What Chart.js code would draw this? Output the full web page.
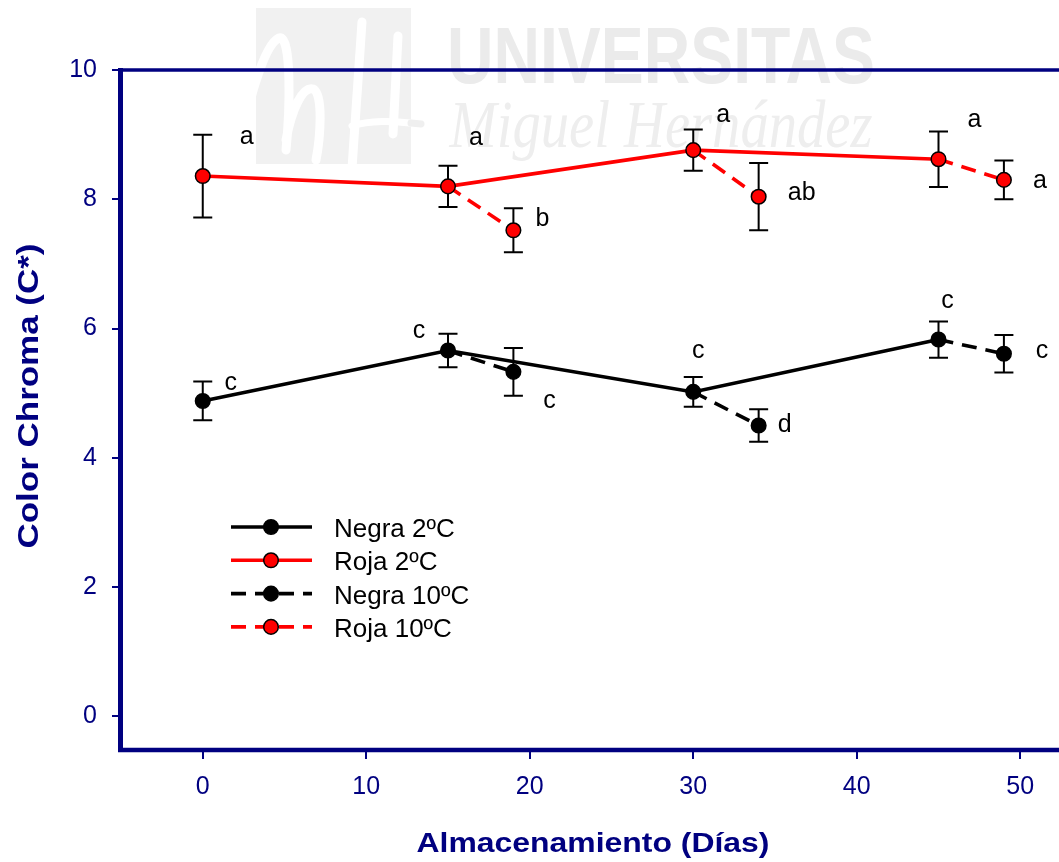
<!DOCTYPE html>
<html>
<head>
<meta charset="utf-8">
<script src="https://cdn.jsdelivr.net/npm/chart.js@4.4.1/dist/chart.umd.min.js"></script>
<style>
  html, body { margin: 0; padding: 0; background: #ffffff; overflow: hidden; }
  #wrap { width: 1059px; height: 862px; position: relative; }
</style>
</head>
<body>
<div id="wrap"><canvas id="chart"></canvas></div>
<script>
// ---- data: storage days and chroma means ± error ----
const storageDays = [0, 15, 30, 45];
const warmDays = [19, 34, 49];

const negra2 = [4.88, 5.66, 5.02, 5.83];
const negra2Err = [0.30, 0.26, 0.23, 0.28];
const roja2 = [8.36, 8.20, 8.76, 8.62];
const roja2Err = [0.64, 0.32, 0.32, 0.43];

const negra10 = [5.33, 4.50, 5.61];
const negra10Err = [0.37, 0.25, 0.29];
const roja10 = [7.52, 8.04, 8.30];
const roja10Err = [0.34, 0.52, 0.30];

// significance letters
const negra2Letters = ['c', 'c', 'c', 'c'];
const roja2Letters = ['a', 'a', 'a', 'a'];
const negra10Letters = ['c', 'd', 'c'];
const roja10Letters = ['b', 'ab', 'a'];

const seriesNames = ['Negra 2ºC', 'Roja 2ºC', 'Negra 10ºC', 'Roja 10ºC'];
const xTicks = [0, 10, 20, 30, 40, 50];
const yTicks = [0, 2, 4, 6, 8, 10];
const xTitle = 'Almacenamiento (Días)';
const yTitle = 'Color Chroma (C*)';

// ---- styling ----
const NAVY = '#000080';
const RED = '#ff0000';
const FONT = '"Liberation Sans", Arial, Helvetica, sans-serif';

// letter placement relative to each marker: [dx, baseline dy] in px
const negra2LetterPos = [[28, -11], [-29, -13], [5, -34], [9, -32]];
const roja2LetterPos = [[44, -32], [28, -41], [30, -28], [36, -32]];
const negra10LetterPos = [[36, 36], [26, 6], [38, 4]];
const roja10LetterPos = [[29, -4], [43, 3], [36, 8]];

function solidPoints(days, vals, errs, letters, pos) {
  return days.map((d, i) => ({ x: d, y: vals[i], err: errs[i], letter: letters[i], pos: pos[i] }));
}
// each 10ºC segment starts from the matching 2ºC point and ends at the warm-storage day
function warmPoints(startDays, startVals, days, vals, errs, letters, pos) {
  const pts = [];
  days.forEach((d, i) => {
    pts.push({ x: startDays[i + 1], y: startVals[i + 1], start: true });
    pts.push({ x: d, y: vals[i], err: errs[i], letter: letters[i], pos: pos[i] });
    pts.push({ x: d, y: null });
  });
  return pts;
}

const markerRadius = ctx => (ctx.raw && ctx.raw.start) ? 0 : 7.3;

const datasets = [
  {
    label: seriesNames[0],
    data: solidPoints(storageDays, negra2, negra2Err, negra2Letters, negra2LetterPos),
    borderColor: '#000000', backgroundColor: '#000000',
    borderWidth: 3.6, borderDash: [],
    pointBackgroundColor: '#000000', pointBorderColor: '#000000',
    pointRadius: markerRadius, pointBorderWidth: 1.5
  },
  {
    label: seriesNames[1],
    data: solidPoints(storageDays, roja2, roja2Err, roja2Letters, roja2LetterPos),
    borderColor: RED, backgroundColor: RED,
    borderWidth: 3.6, borderDash: [],
    pointBackgroundColor: RED, pointBorderColor: '#000000',
    pointRadius: markerRadius, pointBorderWidth: 1.5
  },
  {
    label: seriesNames[2],
    data: warmPoints(storageDays, negra2, warmDays, negra10, negra10Err, negra10Letters, negra10LetterPos),
    borderColor: '#000000', backgroundColor: '#000000',
    borderWidth: 3.6, borderDash: [15, 9],
    pointBackgroundColor: '#000000', pointBorderColor: '#000000',
    pointRadius: markerRadius, pointBorderWidth: 1.5
  },
  {
    label: seriesNames[3],
    data: warmPoints(storageDays, roja2, warmDays, roja10, roja10Err, roja10Letters, roja10LetterPos),
    borderColor: RED, backgroundColor: RED,
    borderWidth: 3.6, borderDash: [15, 9],
    pointBackgroundColor: RED, pointBorderColor: '#000000',
    pointRadius: markerRadius, pointBorderWidth: 1.5
  }
];

function drawScaledText(ctx, text, x, y, width) {
  const w = ctx.measureText(text).width;
  ctx.save();
  ctx.translate(x, y);
  ctx.scale(width / w, 1);
  ctx.fillText(text, -w / 2, 0);
  ctx.restore();
}

const decor = {
  id: 'decor',
  beforeDraw(chart) {
    const ctx = chart.ctx;
    ctx.save();
    // university watermark
    ctx.fillStyle = '#f1f1f1';
    ctx.fillRect(256, 8, 155, 156);
    ctx.strokeStyle = '#ffffff';
    ctx.lineWidth = 9;
    ctx.lineCap = 'round';
    ctx.lineJoin = 'round';
    ctx.beginPath();
    ctx.moveTo(236, 158);
    ctx.bezierCurveTo(246, 115, 262, 45, 279, 38);
    ctx.bezierCurveTo(292, 34, 290, 110, 286, 150);
    ctx.moveTo(286, 140);
    ctx.bezierCurveTo(292, 108, 303, 86, 313, 89);
    ctx.bezierCurveTo(324, 93, 320, 140, 316, 160);
    ctx.moveTo(362, 22);
    ctx.lineTo(352, 168);
    ctx.moveTo(398, 36);
    ctx.lineTo(393, 134);
    ctx.stroke();
    ctx.lineWidth = 7;
    ctx.beginPath();
    ctx.moveTo(352, 126);
    ctx.bezierCurveTo(370, 120, 395, 121, 410, 123);
    ctx.stroke();
    ctx.strokeStyle = '#efefef';
    ctx.beginPath();
    ctx.moveTo(411, 123);
    ctx.lineTo(421, 124);
    ctx.stroke();

    ctx.fillStyle = '#ebebeb';
    ctx.font = 'bold 79px ' + FONT;
    ctx.textBaseline = 'alphabetic';
    drawScaledText(ctx, 'UNIVERSITAS', 661, 83, 428);
    ctx.fillStyle = '#eeeeee';
    ctx.font = 'italic 68px "Liberation Serif", "DejaVu Serif", serif';
    drawScaledText(ctx, 'Miguel Hernández', 661, 147, 423);
    ctx.restore();
  },
  beforeDatasetsDraw(chart) {
    // error bars
    const ctx = chart.ctx;
    const ys = chart.scales.y;
    ctx.save();
    ctx.strokeStyle = '#000000';
    ctx.lineWidth = 2;
    chart.data.datasets.forEach((ds, di) => {
      const meta = chart.getDatasetMeta(di);
      meta.data.forEach((el, i) => {
        const raw = ds.data[i];
        if (!raw || raw.err == null || raw.y == null) return;
        const top = ys.getPixelForValue(raw.y + raw.err);
        const bot = ys.getPixelForValue(raw.y - raw.err);
        const x = el.x;
        ctx.beginPath();
        ctx.moveTo(x, top); ctx.lineTo(x, bot);
        ctx.moveTo(x - 9.5, top); ctx.lineTo(x + 9.5, top);
        ctx.moveTo(x - 9.5, bot); ctx.lineTo(x + 9.5, bot);
        ctx.stroke();
      });
    });
    ctx.restore();
  },
  afterDraw(chart) {
    const ctx = chart.ctx;
    const a = chart.chartArea;
    ctx.save();

    // significance letters
    ctx.fillStyle = '#000000';
    ctx.font = '25px ' + FONT;
    ctx.textAlign = 'center';
    ctx.textBaseline = 'alphabetic';
    chart.data.datasets.forEach((ds, di) => {
      const meta = chart.getDatasetMeta(di);
      meta.data.forEach((el, i) => {
        const raw = ds.data[i];
        if (!raw || !raw.letter) return;
        ctx.fillText(raw.letter, el.x + raw.pos[0], el.y + raw.pos[1]);
      });
    });

    // axis frame (left, top, bottom)
    ctx.strokeStyle = NAVY;
    ctx.lineCap = 'butt';
    ctx.lineWidth = 5;
    ctx.beginPath();
    ctx.moveTo(a.left - 0.5, a.top - 2);
    ctx.lineTo(a.left - 0.5, a.bottom + 2);
    ctx.stroke();
    ctx.lineWidth = 3.6;
    ctx.beginPath();
    ctx.moveTo(a.left - 3, a.top);
    ctx.lineTo(a.right + 2, a.top);
    ctx.stroke();
    ctx.lineWidth = 4.4;
    ctx.beginPath();
    ctx.moveTo(a.left - 3, a.bottom);
    ctx.lineTo(a.right + 2, a.bottom);
    ctx.stroke();

    // legend
    const lx0 = 231, lx1 = 312, mx = 271, tx = 334, ly0 = 527, step = 33.3;
    chart.data.datasets.forEach((ds, i) => {
      const y = ly0 + i * step;
      ctx.strokeStyle = ds.borderColor;
      ctx.lineWidth = ds.borderWidth;
      ctx.setLineDash(ds.borderDash);
      ctx.beginPath();
      ctx.moveTo(lx0, y); ctx.lineTo(lx1, y);
      ctx.stroke();
      ctx.setLineDash([]);
      ctx.fillStyle = ds.pointBackgroundColor;
      ctx.strokeStyle = ds.pointBorderColor;
      ctx.lineWidth = ds.pointBorderWidth;
      ctx.beginPath();
      ctx.arc(mx, y, 7.3, 0, Math.PI * 2);
      ctx.fill();
      ctx.stroke();
      ctx.fillStyle = '#000000';
      ctx.font = '26px ' + FONT;
      ctx.textAlign = 'left';
      ctx.textBaseline = 'alphabetic';
      ctx.fillText(ds.label, tx, y + 10);
    });

    // axis titles
    ctx.fillStyle = NAVY;
    ctx.font = 'bold 28px ' + FONT;
    ctx.textAlign = 'left';
    ctx.textBaseline = 'alphabetic';
    drawScaledText(ctx, xTitle, 593, 852, 353);
    ctx.save();
    ctx.translate(38, 396);
    ctx.rotate(-Math.PI / 2);
    ctx.font = 'bold 29px ' + FONT;
    drawScaledText(ctx, yTitle, 0, 0, 305);
    ctx.restore();

    ctx.restore();
  }
};

new Chart(document.getElementById('chart'), {
  type: 'line',
  data: { datasets },
  plugins: [decor],
  options: {
    responsive: true,
    maintainAspectRatio: false,
    animation: false,
    events: [],
    spanGaps: false,
    layout: { autoPadding: false, padding: { top: 70, right: 0, bottom: 0, left: 0 } },
    elements: { line: { tension: 0 } },
    plugins: { legend: { display: false }, tooltip: { enabled: false }, title: { display: false } },
    scales: {
      x: {
        type: 'linear',
        min: -5,
        max: 52.37,
        afterBuildTicks: s => { s.ticks = xTicks.map(v => ({ value: v })); },
        afterFit: s => { s.height = 112; },
        border: { display: false },
        grid: { drawOnChartArea: false, drawTicks: true, tickLength: 9, color: NAVY, lineWidth: 2 },
        ticks: { color: NAVY, font: { family: FONT, size: 25 }, padding: 13, maxRotation: 0, autoSkip: false }
      },
      y: {
        type: 'linear',
        min: -0.52,
        max: 10,
        afterBuildTicks: s => { s.ticks = yTicks.map(v => ({ value: v })); },
        afterFit: s => { s.width = 121; },
        border: { display: false },
        grid: { drawOnChartArea: false, drawTicks: true, tickLength: 9, color: NAVY, lineWidth: 2 },
        ticks: { color: NAVY, font: { family: FONT, size: 25 }, padding: 15, autoSkip: false }
      }
    }
  }
});
</script>
</body>
</html>
